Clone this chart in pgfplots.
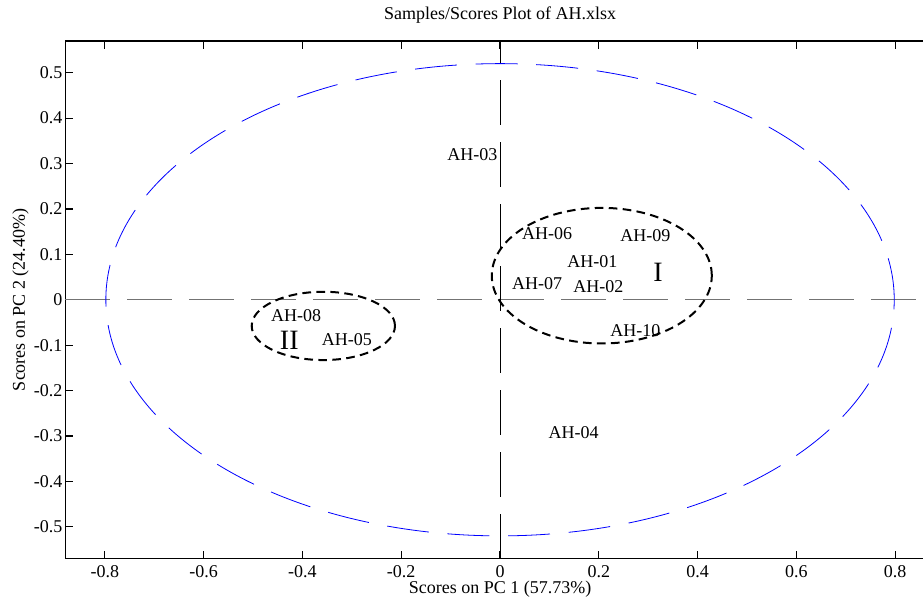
\documentclass[border=0pt]{standalone}
\usepackage{fontspec}
\setmainfont{Liberation Serif}
\usepackage{pgfplots}
\pgfplotsset{compat=1.18}
\usetikzlibrary{calc}

\pgfplotstableread{
x y label
0.136 0.084 AH-01
0.148 0.029 AH-02
-0.107 0.319 AH-03
0.098 -0.293 AH-04
-0.361 -0.087 AH-05
0.044 0.146 AH-06
0.024 0.035 AH-07
-0.464 -0.034 AH-08
0.243 0.141 AH-09
0.223 -0.067 AH-10
}\samples

\pgfplotstableread{
x y label
0.320 0.060 I
-0.4267 -0.089 II
}\groups

\begin{document}
\fontsize{13.5}{16}\selectfont
\begin{tikzpicture}
\begin{axis}[
  scale only axis,
  width=652pt, height=388.2pt,
  xmin=-0.88, xmax=0.88, ymin=-0.57, ymax=0.57,
  xtick={-0.8,-0.6,-0.4,-0.2,0,0.2,0.4,0.6,0.8},
  ytick={-0.5,-0.4,-0.3,-0.2,-0.1,0,0.1,0.2,0.3,0.4,0.5},
  tick align=inside, major tick length=6pt,
  axis line style={line width=0.9pt},
  tick style={line width=0.9pt, black},
  /pgf/number format/assume math mode=true,
  /pgf/number format/fixed, /pgf/number format/precision=1,
  xticklabel style={anchor=base, yshift=-14.4pt, inner sep=0pt, font=\fontsize{13.5}{16}\selectfont},
  yticklabel style={anchor=east, inner sep=0pt, xshift=-2pt, font=\fontsize{13.5}{16}\selectfont},
  title={Samples/Scores Plot of AH.xlsx},
  title style={at={(axis description cs:0.5,1.0269)}, anchor=base, inner sep=0pt, font=\fontsize{13.5}{16}\selectfont},
  xlabel={Scores on PC 1 (57.73\%)},
  xlabel style={at={(axis description cs:0.5,-0.0672)}, anchor=base, inner sep=0pt, font=\fontsize{13.5}{16}\selectfont},
  ylabel={Scores on PC 2 (24.40\%)},
  ylabel style={at={(axis description cs:-0.0464,0.5)}, rotate=0, anchor=base, inner sep=0pt, font=\fontsize{13.5}{16}\selectfont},
  clip=false,
]
% zero lines
\addplot[black!55, line width=1pt, dash pattern=on 33.75pt off 12.75pt] coordinates {(-0.88,0) (0.88,0)};
\addplot[black, line width=0.6pt, dash pattern=on 33.75pt off 12.75pt] coordinates {(0,-0.57) (0,0.57)};
% confidence ellipse
\draw[blue, line width=0.6pt, dash pattern=on 31.5pt off 14pt] (axis cs:0,0) ellipse [x radius=0.798, y radius=0.52];
% group ellipses
\draw[black, line width=1.5pt, dash pattern=on 6.5pt off 4pt] (axis cs:0.206,0.053) ellipse [x radius=0.2227, y radius=0.1493];
\draw[black, line width=1.5pt, dash pattern=on 6.5pt off 4pt] (axis cs:-0.3577,-0.0576) ellipse [x radius=0.145, y radius=0.0752];
% sample labels
\addplot[only marks, mark=none, nodes near coords, point meta=explicit symbolic,
  nodes near coords style={anchor=west, inner sep=0pt, font=\fontsize{13.5}{16}\selectfont}]
  table[x=x, y=y, meta=label] {\samples};
\addplot[only marks, mark=none, nodes near coords, point meta=explicit symbolic,
  nodes near coords style={anchor=center, inner sep=0pt, font=\fontsize{21}{24}\selectfont}]
  table[x=x, y=y, meta=label] {\groups};
\end{axis}
\pgfresetboundingbox
\path ($(current axis.south west)+(-49pt,-28.9pt)$) rectangle ($(current axis.north east)+(-8.8pt,30.7pt)$);
\end{tikzpicture}
\end{document}
